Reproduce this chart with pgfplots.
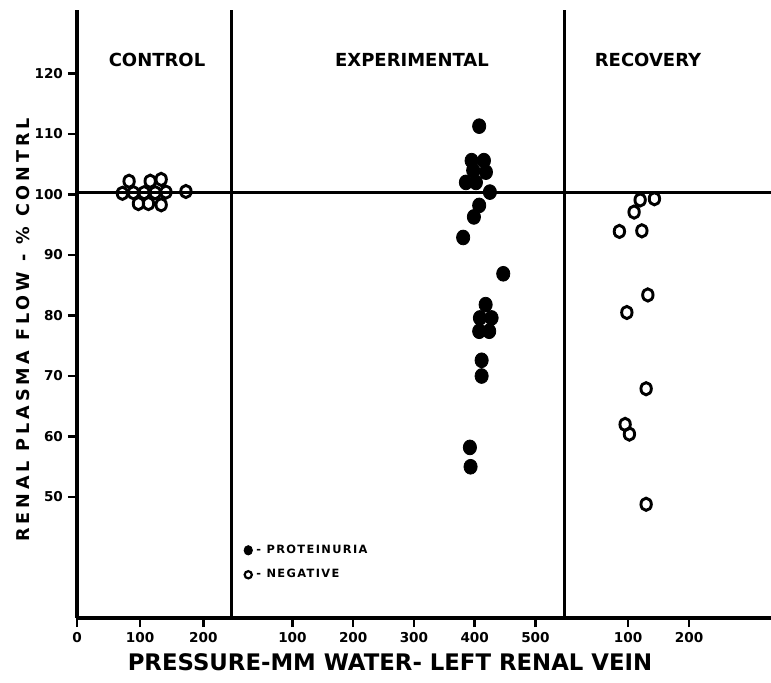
\documentclass[border=0pt]{standalone}
\usepackage{fontspec}
\setmainfont{DejaVu Sans}
\newfontfamily\lsp[LetterSpace=12]{DejaVu Sans}
\newfontfamily\lspw[LetterSpace=22]{DejaVu Sans}
\usepackage{pgfplots}
\pgfplotsset{compat=1.18}

\pgfplotsset{
  panel/.style={
    scale only axis,
    anchor=south west,
    height=304pt,
    ymin=30, ymax=130.5,
    axis lines*=left,
    axis line style={-},
    x axis line style={line width=2pt},
    tick align=outside,
    major tick length=4.5pt,
    tick style={line width=1.3pt, black},
    ticklabel style={font=\bfseries\fontsize{6.8}{7}\selectfont},
    xticklabel style={yshift=1pt},
    yticklabel style={xshift=1pt},
    /pgf/number format/assume math mode=true,
    clip=false,
  },
  neg/.style={only marks, mark=o, mark size=2.6pt, mark options={line width=1.45pt, yscale=1.18}},
  pro/.style={only marks, mark=*, mark size=3.3pt, mark options={fill=black, yscale=1.12}},
}

\begin{document}
\begin{tikzpicture}
\useasboundingbox (0,0) rectangle (385.5pt,341pt);

% CONTROL
\begin{axis}[panel, at={(38.5pt,32pt)}, width=77.35pt,
  xmin=0, xmax=245, xtick={0,100,200},
  ytick={50,60,70,80,90,100,110,120},
  y axis line style={line width=1.8pt}]
\addplot[line width=1.6pt, no marks] coordinates {(0,100.4) (245,100.4)};
\addplot[neg] coordinates {
(71.9,100.2) (82.5,102.2) (89.4,100.3) (97.3,98.5) (106.3,100.3)
(113.2,98.5) (115.9,102.2) (123.8,100.3) (133.3,102.5) (133.3,98.3)
(140.8,100.4) (172.5,100.5)};
\end{axis}

% EXPERIMENTAL
\begin{axis}[panel, at={(115.85pt,32pt)}, width=166.15pt,
  xmin=0, xmax=547, xtick={100,200,300,400,500}, ytick=\empty,
  y axis line style={line width=1.5pt},
  legend style={draw=none, fill=none, at={(0.036,0.128)}, anchor=north west,
    inner sep=0pt, row sep=2.5pt, font=\lsp\bfseries\fontsize{5.7}{6}\selectfont},
  legend cell align=left]
\addplot[line width=1.6pt, no marks, forget plot] coordinates {(0,100.4) (547,100.4)};
\addplot[pro, legend image code/.code={\draw[fill=black] plot[mark=*, mark size=2.1pt] coordinates {(0cm,0cm)};}] coordinates {
(407.4,111.3) (394.9,105.6) (415.2,105.6) (397.5,104.0) (418.5,103.7)
(385.5,102.0) (402.0,102.0) (425.0,100.4) (407.4,98.2) (398.7,96.3)
(381.0,92.9) (447.0,86.9) (418.0,81.8) (408.6,79.6) (427.8,79.6)
(407.4,77.4) (423.9,77.4) (411.4,72.6) (411.4,70.0) (392.1,58.2)
(393.2,55.0)};
\addlegendentry{- PROTEINURIA}
\addlegendimage{legend image code/.code={\draw[line width=1.1pt] plot[mark=o, mark size=1.8pt] coordinates {(0cm,0cm)};}}
\addlegendentry{- NEGATIVE}
\end{axis}

% RECOVERY
\begin{axis}[panel, at={(282pt,32pt)}, width=103.5pt,
  xmin=-5, xmax=334, xtick={100,200}, ytick=\empty,
  y axis line style={line width=1.5pt}]
\addplot[line width=1.6pt, no marks] coordinates {(-5,100.4) (334,100.4)};
\addplot[neg] coordinates {
(119.7,99.1) (143.1,99.3) (109.8,97.1) (85.7,93.9) (122.5,94.0)
(132.3,83.4) (97.9,80.5) (129.5,67.9) (95.1,62.0) (102.1,60.4)
(129.5,48.8)};
\end{axis}

\node[font=\bfseries\fontsize{9}{10}\selectfont] at (78.5pt,311pt) {CONTROL};
\node[font=\bfseries\fontsize{9}{10}\selectfont] at (206pt,311pt) {EXPERIMENTAL};
\node[font=\bfseries\fontsize{9}{10}\selectfont] at (324pt,311pt) {RECOVERY};
\node[font=\bfseries\fontsize{11.4}{12}\selectfont] at (195pt,10pt) {PRESSURE-MM WATER- LEFT RENAL VEIN};
\node[rotate=90, font=\lspw\bfseries\fontsize{8.8}{10}\selectfont] at (11.5pt,176pt) {RENAL PLASMA FLOW - \% CONTRL};
\end{tikzpicture}
\end{document}
